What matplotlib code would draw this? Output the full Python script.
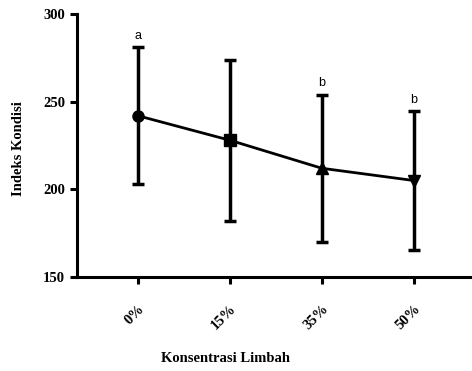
import matplotlib
matplotlib.use("Agg")
import matplotlib.pyplot as plt

categories = ["0%", "15%", "35%", "50%"]
means = [242, 228, 212, 205]
errors = [39, 46, 42, 39.5]
letters = ["a", "", "b", "b"]
markers = ["o", "s", "^", "v"]

fig = plt.figure(figsize=(4.72, 3.71), dpi=100)
ax = fig.add_axes([0.163, 0.2534, 0.837, 0.7089])

x = list(range(len(categories)))
ax.plot(x, means, color="black", lw=2, zorder=2)
ax.errorbar(x, means, yerr=errors, fmt="none", ecolor="black", elinewidth=2.5,
            capsize=4, capthick=2.5, zorder=1)
for xi, m, mk in zip(x, means, markers):
    ax.plot([xi], [m], marker=mk, color="black", markersize=8, linestyle="none", zorder=3)
for xi, m, e, t in zip(x, means, errors, letters):
    if t:
        ax.text(xi, m + e + 3, t, ha="center", va="bottom", fontsize=9,
                family="Liberation Sans")

ax.set_xlim(-0.66, 3.63)
ax.set_ylim(150, 300)
ax.set_yticks([150, 200, 250, 300])
ax.set_xticks(x)
ax.set_xticklabels(categories, rotation=45, ha="right", rotation_mode="anchor",
                   family="Liberation Serif", fontweight="bold", fontsize=10.5)
for lab in ax.get_yticklabels():
    lab.set_family("Liberation Serif")
    lab.set_fontweight("bold")
    lab.set_fontsize(10.5)

for s in ["top", "right"]:
    ax.spines[s].set_visible(False)
for s in ["left", "bottom"]:
    ax.spines[s].set_linewidth(2.2)
ax.tick_params(axis="both", width=2.2, length=5, direction="out")
ax.tick_params(axis="x", pad=13)

ax.set_ylabel("Indeks Kondisi", family="Liberation Serif", fontweight="bold",
              fontsize=10.5)
ax.set_xlabel("Konsentrasi Limbah", family="Liberation Serif", fontweight="bold",
              fontsize=10.5)
ax.yaxis.set_label_coords(-0.132, 0.49)
ax.xaxis.set_label_coords(0.377, -0.285)

fig.savefig("out.png", dpi=100)
